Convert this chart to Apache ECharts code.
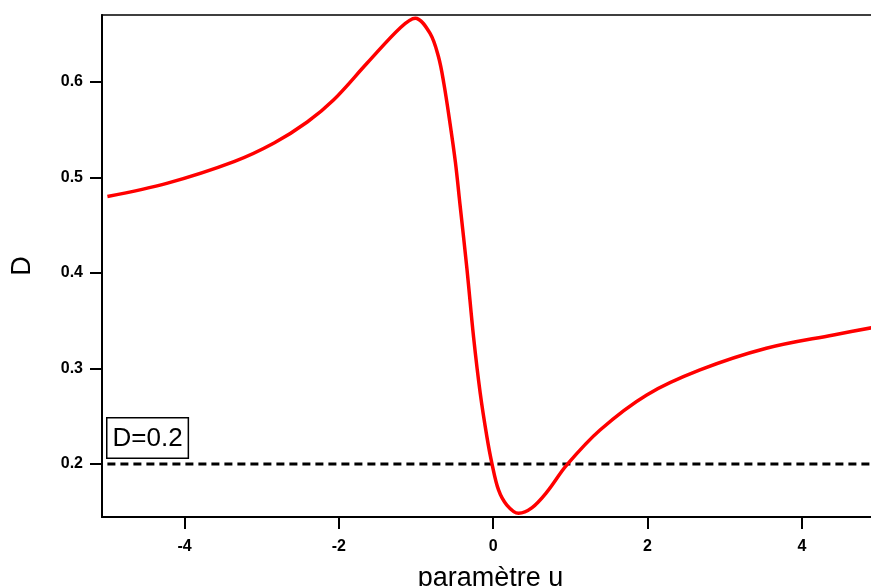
<!DOCTYPE html>
<html>
<head>
<meta charset="utf-8">
<script src="https://cdn.jsdelivr.net/npm/echarts@6/dist/echarts.min.js"></script>
<style>
	html, body { margin: 0; padding: 0; background: #fff; }
	#chart { width: 871px; height: 586px; }
</style>
</head>
<body>
<div id="chart"></div>
<script>
	// valeurs
	let u_values = [-5.0, -4.22, -3.36, -2.84, -2.41, -2.07, -1.63, -1.2, -1.01, -0.82, -0.71, -0.64, -0.56, -0.49, -0.43, -0.34, -0.255, -0.168, -0.082, -0.017, 0.069, 0.177, 0.328, 0.5, 0.7, 0.954, 1.385, 1.99, 2.68, 3.54, 4.41, 5.0];
	let d_values = [0.480, 0.494, 0.5165, 0.536, 0.558, 0.581, 0.620, 0.657, 0.6667, 0.651, 0.6265, 0.5986, 0.5568, 0.516, 0.4714, 0.404, 0.3333, 0.274, 0.2286, 0.2007, 0.1728, 0.157, 0.1484, 0.154, 0.171, 0.199, 0.2356, 0.2723, 0.2984, 0.3211, 0.3351, 0.344];
	let seuil_u = [-5, 5];
	let seuil_d = [0.2, 0.2];
	let x_ticks = [-4, -2, 0, 2, 4];
	let y_ticks = [0.2, 0.3, 0.4, 0.5, 0.6];

	let chart = echarts.init(document.getElementById('chart'));

	let zip = function(xs, ys){
		return xs.map(function(x, i){ return [x, ys[i]]; });
	};

	let label_style = {
		fontFamily: 'Liberation Sans',
		fontWeight: 'bold',
		fontSize: 16,
		color: '#000'
	};

	let options = {
		animation: false,
		grid: {
			left: 102,
			right: -8,
			top: 15,
			bottom: 69,
			outerBoundsMode: 'none',
			containLabel: false,
			show: true,
			borderColor: '#000',
			borderWidth: 1.5
		},
		xAxis: {
			type: 'value',
			min: -5.07,
			max: 5,
			name: 'paramètre u',
			nameLocation: 'middle',
			nameGap: 48,
			nameTextStyle: { fontFamily: 'Liberation Sans', fontSize: 27, color: '#000' },
			axisLine: { onZero: false, lineStyle: { color: '#000', width: 2 } },
			axisTick: { show: true, length: 12, lineStyle: { color: '#000', width: 2 }, customValues: x_ticks },
			axisLabel: Object.assign({ margin: 22, customValues: x_ticks }, label_style),
			splitLine: { show: false }
		},
		yAxis: {
			type: 'value',
			min: 0.1445,
			max: 0.670,
			name: 'D',
			nameLocation: 'middle',
			nameGap: 66,
			nameTextStyle: { fontFamily: 'Liberation Sans', fontSize: 27, color: '#000' },
			axisLine: { show: true, onZero: false, lineStyle: { color: '#000', width: 2 } },
			axisTick: { show: true, length: 12, lineStyle: { color: '#000', width: 2 }, customValues: y_ticks },
			axisLabel: Object.assign({ margin: 19, customValues: y_ticks, formatter: function(v){ return v.toFixed(1); } }, label_style),
			splitLine: { show: false }
		},
		series: [
			{
				name: 'D',
				type: 'line',
				data: zip(u_values, d_values),
				smooth: 0.35,
				showSymbol: false,
				lineStyle: { color: '#ff0000', width: 3.5 },
				z: 3
			},
			{
				name: 'D=0.2',
				type: 'line',
				data: zip(seuil_u, seuil_d),
				showSymbol: false,
				lineStyle: { color: '#000', width: 3, type: [8, 5] },
				z: 2
			}
		],
		graphic: [
			{
				type: 'text',
				left: 106,
				top: 417,
				style: {
					text: 'D=0.2',
					fontFamily: 'Liberation Sans',
					fontSize: 26,
					fill: '#000',
					backgroundColor: '#fff',
					borderColor: '#000',
					borderWidth: 1.5,
					padding: [7, 5, 6, 5]
				}
			}
		]
	};

	chart.setOption(options);
</script>
</body>
</html>
